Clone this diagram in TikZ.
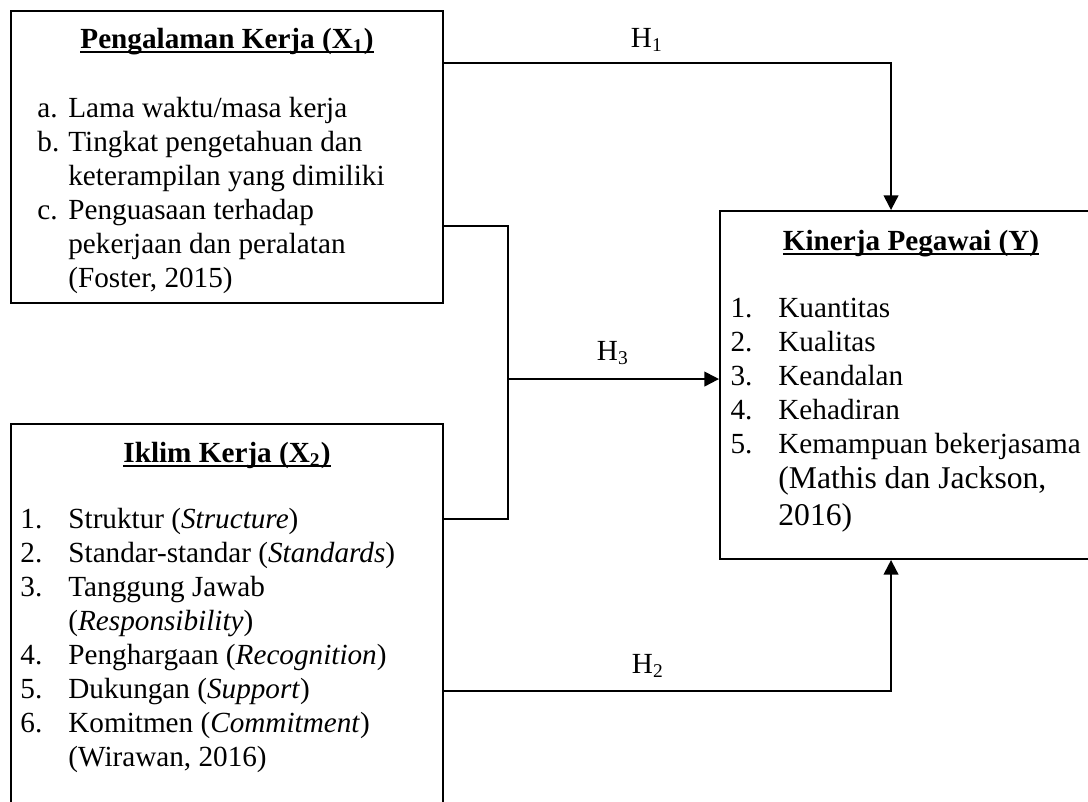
\documentclass[tikz,border=0pt]{standalone}
\usepackage{fontspec}
\setmainfont{Liberation Serif}
\usetikzlibrary{arrows.meta,positioning,calc}

\newcommand{\px}{0.411pt}
\newcommand{\ulined}[1]{\setbox0\hbox{#1}\rlap{\rule[-2pt]{\wd0}{0.9pt}}\box0}

\begin{document}
\begin{tikzpicture}[
    x=\px, y=-\px,
    every node/.style={font=\fontsize{12}{14}\selectfont, inner sep=0pt},
    box/.style={rectangle, draw, line width=0.8pt},
    title/.style={anchor=base, font=\fontsize{12}{14}\selectfont\bfseries},
    list/.style={anchor=base west, align=left},
    hyp/.style={anchor=base},
    arr/.style={-{Triangle[length=6pt,width=6pt]}, line width=0.8pt},
    link/.style={line width=0.8pt},
]
\useasboundingbox (0,0) rectangle (1088,801);
\clip (0,0) rectangle (1088,801);

% Boxes
\node[box, minimum width=432*\px, minimum height=292*\px] (peng)    at (227,157) {};
\node[box, minimum width=432*\px, minimum height=416*\px] (iklim)   at (227,632) {};
\node[box, minimum width=382*\px, minimum height=348*\px] (kinerja) at (911,385) {};

% Titles
\node[title] (tpeng)    at (227,48)  {\ulined{Pengalaman Kerja (X\textsubscript{1})}};
\node[title] (tiklim)   at (227,462) {\ulined{Iklim Kerja (X\textsubscript{2})}};
\node[title] (tkinerja) at (911,250) {\ulined{Kinerja Pegawai (Y)}};

% Indicators
\node[list] (lpeng) at (37,117) {\begin{tabular}[t]{@{}p{12.7pt}@{}l@{}}
a. & Lama waktu/masa kerja\\
b. & Tingkat pengetahuan dan\\
   & keterampilan yang dimiliki\\
c. & Penguasaan terhadap\\
   & pekerjaan dan peralatan\\
   & (Foster, 2015)
\end{tabular}};
\node[list] (liklim) at (20,528) {\begin{tabular}[t]{@{}p{19.7pt}@{}l@{}}
1. & Struktur (\textit{Structure})\\
2. & Standar-standar (\textit{Standards})\\
3. & Tanggung Jawab\\
   & (\textit{Responsibility})\\
4. & Penghargaan (\textit{Recognition})\\
5. & Dukungan (\textit{Support})\\
6. & Komitmen (\textit{Commitment})\\
   & (Wirawan, 2016)
\end{tabular}};
\node[list] (lkinerja) at (730,317) {\begin{tabular}[t]{@{}p{19.7pt}@{}l@{}}
1. & Kuantitas\\
2. & Kualitas\\
3. & Keandalan\\
4. & Kehadiran\\
5. & Kemampuan bekerjasama\\[0.5pt]
   & \fontsize{13}{15}\selectfont (Mathis dan Jackson,\\[1pt]
   & \fontsize{13}{15}\selectfont 2016)
\end{tabular}};

% Hypotheses
\node[hyp] (h1) at (647,47)  {H\textsubscript{1}};
\node[hyp] (h3) at (613,360) {H\textsubscript{3}};
\node[hyp] (h2) at (648,673) {H\textsubscript{2}};

% Arrows
\coordinate (gabung) at ($(iklim.north east)+(64,-44)$);
\draw[arr] ($(peng.north east)+(0,53)$) -| ($(kinerja.north west)+(172,0)$);
\draw[link] ($(peng.north east)+(0,216)$) -| ($(iklim.north east)+(64,96)$) -- ($(iklim.north east)+(0,96)$);
\draw[arr] (gabung) -- (gabung -| kinerja.west);
\draw[arr] ($(iklim.north east)+(0,268)$) -| ($(kinerja.south west)+(172,0)$);
\end{tikzpicture}
\end{document}
